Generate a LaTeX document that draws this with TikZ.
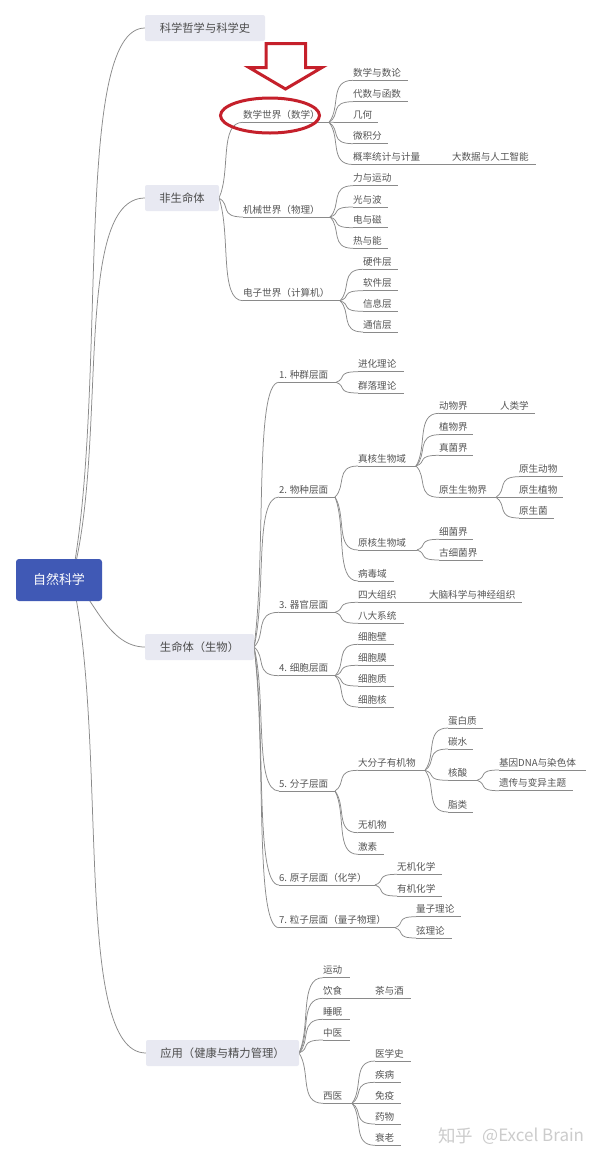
\documentclass[tikz,border=0pt]{standalone}
\usepackage{fontspec}
\setmainfont{Noto Sans CJK SC}
\usetikzlibrary{calc,backgrounds}
\pgfdeclarelayer{paper}
\pgfsetlayers{paper,background,main}
\definecolor{txt}{HTML}{555555}
\definecolor{edgecol}{HTML}{8A8A8A}
\definecolor{boxfill}{HTML}{E8E9F2}
\definecolor{rootfill}{HTML}{4059B5}
\definecolor{mark}{HTML}{C5202B}
\tikzset{
  ln/.style={draw=edgecol,line width=0.75pt},
  tn/.style={inner sep=0pt,outer sep=0pt,anchor=south west,text=txt,font=\fontsize{9.6pt}{11pt}\selectfont},
  topbox/.style={fill=boxfill,rounded corners=2pt,inner sep=0pt,outer sep=0pt,text=black!70,font=\fontsize{11.3pt}{13pt}\selectfont},
  rootbox/.style={fill=rootfill,rounded corners=3pt,inner sep=0pt,outer sep=0pt,text=white,font=\fontsize{13pt}{15pt}\selectfont},
  redmark/.style={draw=mark,line width=3pt,line join=miter},
  wm/.style={inner sep=0pt,text=black!20}
}
% name, x0, x1, y, text
\newcommand\lf[5]{%
  \pgfmathsetlengthmacro\nodew{(#3-#2)*1pt}%
  \node[tn] (#1) at (#2,#4) {\makebox[\nodew][l]{\rule[-3.8pt]{0pt}{12pt}#5}};
  \draw[ln] (#1.south west) -- (#1.south east);
}
% [c1 x frac, c1 y frac, c2 x frac]
\newcommand\cnx[5]{%
  \begin{scope}[on background layer]
  \draw[ln] let \p1=(#4),\p2=(#5) in (\p1) .. controls ({\x1+#1*(\x2-\x1)},{\y1+#2*(\y2-\y1)}) and ({\x1+#3*(\x2-\x1)},\y2) .. (\p2);
  \end{scope}
}
\newcommand\cn[2]{\cnx{.5}{.35}{0}{#1}{#2}}
\newcommand\ch[2]{\cn{#1.south east}{#2.south west}}
\begin{document}
\begin{tikzpicture}[x=1pt,y=-1pt]
\begin{pgfonlayer}{paper}
\fill[white] (0,0) rectangle (600,1160);
\end{pgfonlayer}
\useasboundingbox (0,0) rectangle (600,1160);

% root and top level
\node[rootbox,minimum width=86pt,minimum height=42pt] (root) at (59,580) {自然科学};
\node[topbox,minimum width=120pt,minimum height=26pt] (phil) at (205,28) {科学哲学与科学史};
\node[topbox,minimum width=74pt,minimum height=26pt] (nonlife) at (182,198) {非生命体};
\node[topbox,minimum width=109pt,minimum height=26pt] (life) at (199.5,647) {生命体（生物）};
\node[topbox,minimum width=153pt,minimum height=26pt] (apply) at (222.5,1053) {应用（健康与精力管理）};
\coordinate (fan) at (72,578);
\cn{fan}{phil.west}
\cn{fan}{nonlife.west}
\cnx{.3}{.3}{.5}{fan}{life.west}
\cn{fan}{apply.west}

% non-living
\lf{math}{243}{329}{122.3}{数学世界（数学）}
\lf{mech}{243}{330}{217}{机械世界（物理）}
\lf{elec}{243}{340}{300.7}{电子世界（计算机）}
\cn{nonlife.east}{math.south west}
\cn{nonlife.east}{mech.south west}
\cn{nonlife.east}{elec.south west}
\lf{ma}{353}{408}{80.3}{数学与数论}
\lf{mb}{353}{408}{101.7}{代数与函数}
\lf{mc}{353}{378}{122.6}{几何}
\lf{md}{353}{388}{143.7}{微积分}
\lf{me}{353}{428}{164.5}{概率统计与计量}
\lf{mf}{452}{536}{164.5}{大数据与人工智能}
\ch{math}{ma}\ch{math}{mb}\ch{math}{mc}\ch{math}{md}\ch{math}{me}\ch{me}{mf}
\lf{pa}{353}{398}{185.7}{力与运动}
\lf{pb}{353}{388}{207}{光与波}
\lf{pc}{353}{388}{227.7}{电与磁}
\lf{pd}{353}{388}{248.3}{热与能}
\ch{mech}{pa}\ch{mech}{pb}\ch{mech}{pc}\ch{mech}{pd}
\lf{ea}{363}{398}{269.3}{硬件层}
\lf{eb}{363}{398}{290.7}{软件层}
\lf{ec}{363}{398}{311.3}{信息层}
\lf{ed}{363}{398}{332}{通信层}
\ch{elec}{ea}\ch{elec}{eb}\ch{elec}{ec}\ch{elec}{ed}

% living
\lf{l1}{279}{336}{382.3}{1. 种群层面}
\lf{l2}{279}{335}{497}{2. 物种层面}
\lf{l3}{279}{335}{612.3}{3. 器官层面}
\lf{l4}{279}{335}{675.7}{4. 细胞层面}
\lf{l5}{279}{335}{791}{5. 分子层面}
\lf{l6}{279}{375}{885}{6. 原子层面（化学）}
\lf{l7}{279}{395}{927.7}{7. 粒子层面（量子物理）}
\cn{life.east}{l1.south west}\cn{life.east}{l2.south west}\cn{life.east}{l3.south west}
\cn{life.east}{l4.south west}\cn{life.east}{l5.south west}\cn{life.east}{l6.south west}\cn{life.east}{l7.south west}
\lf{aa}{358}{404}{371.7}{进化理论}
\lf{ab}{358}{404}{393}{群落理论}
\ch{l1}{aa}\ch{l1}{ab}
\lf{ba}{358}{416}{466}{真核生物域}
\lf{bb}{358}{417}{550}{原核生物域}
\lf{bc}{358}{394}{581}{病毒域}
\ch{l2}{ba}\ch{l2}{bb}\ch{l2}{bc}
\lf{ca}{439}{476}{413.3}{动物界}
\lf{cb}{500}{535}{413.3}{人类学}
\lf{cc}{439}{473}{434.7}{植物界}
\lf{cd}{439}{473}{455.3}{真菌界}
\lf{ce}{439}{496}{497.3}{原生生物界}
\ch{ba}{ca}\ch{ca}{cb}\ch{ba}{cc}\ch{ba}{cd}\ch{ba}{ce}
\lf{da}{519}{563}{476.7}{原生动物}
\lf{db}{519}{563}{497.3}{原生植物}
\lf{dc}{519}{554}{518}{原生菌}
\ch{ce}{da}\ch{ce}{db}\ch{ce}{dc}
\lf{fa}{439}{473}{539.3}{细菌界}
\lf{fb}{439}{483}{560}{古细菌界}
\ch{bb}{fa}\ch{bb}{fb}
\lf{ga}{358}{404}{602.3}{四大组织}
\lf{gb}{429}{522}{602.3}{大脑科学与神经组织}
\lf{gc}{358}{404}{623.3}{八大系统}
\ch{l3}{ga}\ch{ga}{gb}\ch{l3}{gc}
\lf{ha}{358}{394}{644.3}{细胞壁}
\lf{hb}{358}{394}{665.3}{细胞膜}
\lf{hc}{358}{394}{686}{细胞质}
\lf{hd}{358}{394}{707}{细胞核}
\ch{l4}{ha}\ch{l4}{hb}\ch{l4}{hc}\ch{l4}{hd}
\lf{ia}{358}{425}{770.3}{大分子有机物}
\lf{ib}{358}{394}{832.7}{无机物}
\lf{ic}{358}{384}{854.3}{激素}
\ch{l5}{ia}\ch{l5}{ib}\ch{l5}{ic}
\lf{ja}{448}{483}{728}{蛋白质}
\lf{jb}{448}{473}{749}{碳水}
\lf{jc}{448}{477}{780.3}{核酸}
\lf{jd}{448}{473}{812}{脂类}
\ch{ia}{ja}\ch{ia}{jb}\ch{ia}{jc}\ch{ia}{jd}
\lf{ka}{499}{586}{770}{基因DNA与染色体}
\lf{kb}{499}{573}{790.7}{遗传与变异主题}
\ch{jc}{ka}\ch{jc}{kb}
\lf{ma6}{397}{442}{874.3}{无机化学}
\lf{mb6}{397}{442}{896}{有机化学}
\ch{l6}{ma6}\ch{l6}{mb6}
\lf{na}{416}{461}{916.7}{量子理论}
\lf{nb}{416}{452}{938}{弦理论}
\ch{l7}{na}\ch{l7}{nb}

% application
\lf{oa}{323}{350}{977.7}{运动}
\lf{ob}{323}{350}{998.3}{饮食}
\lf{oc}{375}{411}{998.3}{茶与酒}
\lf{od}{323}{350}{1019.3}{睡眠}
\lf{oe}{323}{350}{1040}{中医}
\lf{of}{323}{352}{1103.3}{西医}
\cn{apply.east}{oa.south west}\cn{apply.east}{ob.south west}\ch{ob}{oc}
\cn{apply.east}{od.south west}\cn{apply.east}{oe.south west}\cn{apply.east}{of.south west}
\lf{qa}{375}{411}{1061}{医学史}
\lf{qb}{375}{401}{1082.3}{疾病}
\lf{qc}{375}{401}{1103.3}{免疫}
\lf{qd}{375}{401}{1124}{药物}
\lf{qe}{375}{401}{1145.3}{衰老}
\ch{of}{qa}\ch{of}{qb}\ch{of}{qc}\ch{of}{qd}\ch{of}{qe}

% red annotation
\draw[redmark] (266,43.5) -- (305.5,43.5) -- (305.5,67.5) -- (322,67.5) -- (285.5,89) -- (249,67.5) -- (266,67.5) -- cycle;
\draw[redmark] (270,115.5) ellipse [x radius=49.5,y radius=17.5];

% watermark
\node[wm,anchor=west,font=\fontsize{17.5pt}{20pt}\selectfont] (zhihu) at (438,1136) {知乎};
\node[wm,anchor=west,font=\fontsize{17pt}{20pt}\selectfont] (brand) at (482,1136) {@Excel Brain};
\end{tikzpicture}
\end{document}
